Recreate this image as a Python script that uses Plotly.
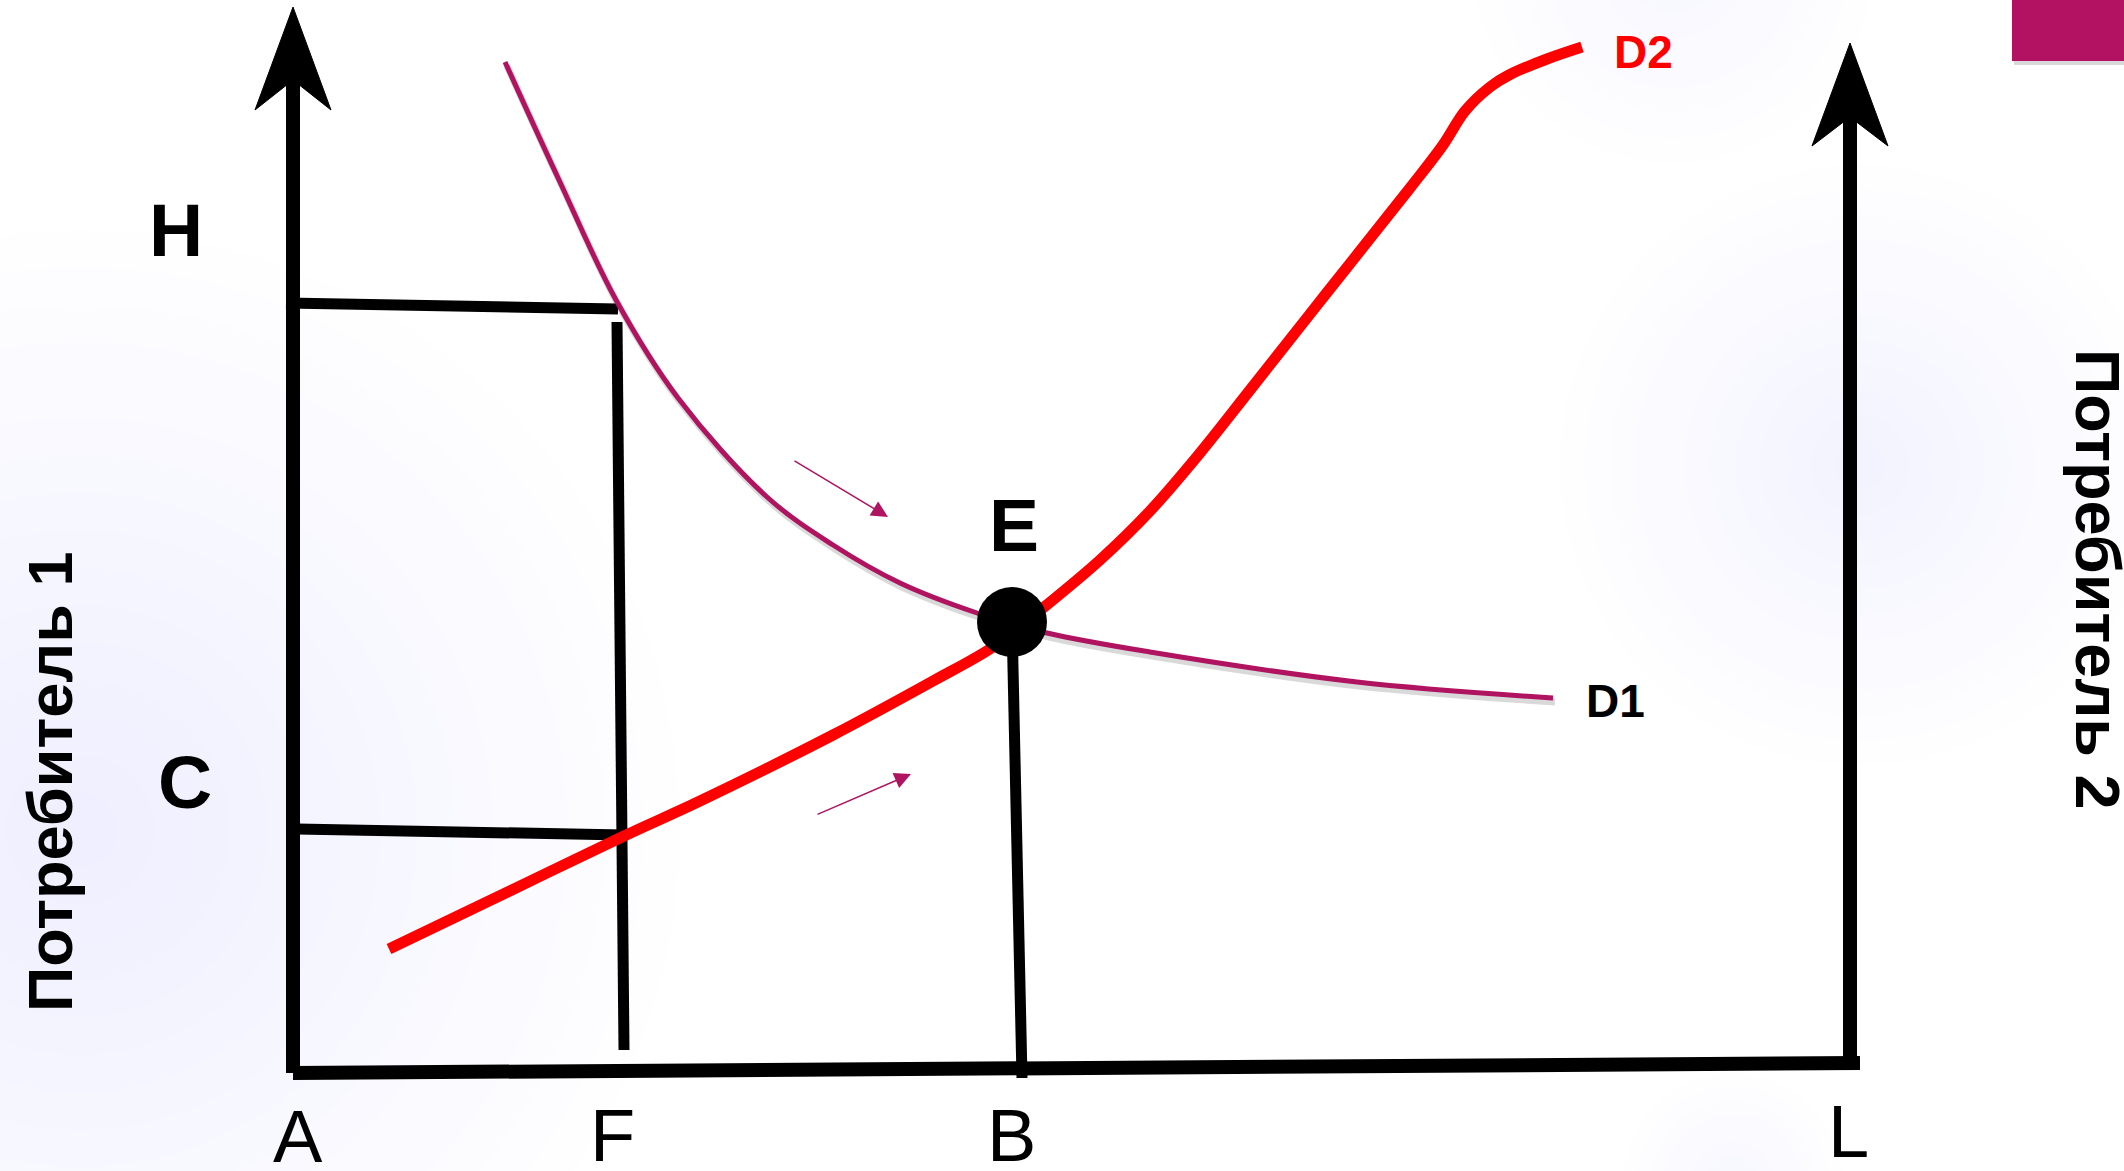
import plotly.graph_objects as go

# coordinates measured with the origin at point A (x right, y up)
d1_x = [212, 266, 323, 385, 474, 540, 607, 684, 754, 857, 1064, 1260]
d1_y = [1011, 893, 773, 675, 576, 528, 490, 460, 440, 421, 391, 375]

d2_x = [96, 198, 331, 407, 540, 640, 700, 750, 807, 857, 907, 957, 1032,
        1117, 1150, 1172, 1197, 1216, 1254, 1289]
d2_y = [124, 173, 237, 272, 338, 392, 426, 465, 513, 562, 620, 683, 778,
        885, 928, 962, 986, 998, 1014, 1026]

equilibrium = (719, 451)

# guide lines: name -> ([x0, x1], [y0, y1])
guides = {
    "H": ([-7, 325], [770, 764]),
    "F": ([324, 331], [751, 23]),
    "C": ([4, 331], [244, 238]),
    "B": ([719, 729], [451, -5]),
}

# axes of the box
axis_left = ([0, 0], [0, 993])
axis_bottom = ([0, 1567], [0, 10])
axis_right = ([1557, 1557], [10, 956])
arrow_tips = [(0, 1066, 993, 963), (1557, 1030, 956, 927)]  # x, tip, notch, barb

point_labels = ["H", "C", "E"]
point_label_x = [-117, -108, 721]
point_label_y = [843, 291, 548]

curve_labels = ["D1", "D2"]
curve_label_x = [1322, 1350]
curve_label_y = [372, 1021]

axis_labels = ["A", "F", "B", "L"]
axis_label_x = [5, 319, 718, 1555]
axis_label_y = [-63, -62, -62, -58]

move_arrows = [((500, 613), (595, 556)), ((523, 258), (618, 299))]

purple = "#B0135F"
red = "#FF0000"

fig = go.Figure()

# soft lavender glows in the background
glows = [(-213, 243, 600, 16, 0.014), (1567, 608, 300, 12, 0.01),
         (1440, -110, 110, 8, 0.014), (1380, 1110, 200, 8, 0.008)]
for cx, cy, r, n, a in glows:
    for i in range(n):
        rr = r * (1 - i / n)
        fig.add_shape(type="circle", x0=cx - rr, x1=cx + rr, y0=cy - rr, y1=cy + rr,
                      fillcolor=f"rgba(180,160,236,{a})", line_width=0, layer="below")

# magenta corner tab with a little shadow
fig.add_shape(type="rect", x0=1721, x1=1835, y0=1076, y1=1008,
              fillcolor="rgba(0,0,0,0.15)", line_width=0, layer="below")
fig.add_shape(type="rect", x0=1719, x1=1831, y0=1073, y1=1012,
              fillcolor="#B31262", line_width=0)

for xs, ys in [axis_left, axis_bottom, axis_right]:
    fig.add_trace(go.Scatter(x=xs, y=ys, mode="lines", line=dict(color="black", width=14),
                             hoverinfo="skip"))

for x, tip, notch, barb in arrow_tips:
    fig.add_trace(go.Scatter(x=[x, x + 38, x, x - 38, x], y=[tip, barb, notch, barb, tip],
                             mode="lines", fill="toself", fillcolor="black",
                             line=dict(color="black", width=1), hoverinfo="skip"))

for name, (xs, ys) in guides.items():
    fig.add_trace(go.Scatter(x=xs, y=ys, mode="lines", line=dict(color="black", width=11),
                             hoverinfo="skip"))

# D1 with drop shadow
fig.add_trace(go.Scatter(x=[v + 2 for v in d1_x], y=[v - 4 for v in d1_y], mode="lines",
                         line=dict(color="rgba(0,0,0,0.15)", width=7, shape="spline",
                                   smoothing=1.0),
                         hoverinfo="skip"))
fig.add_trace(go.Scatter(x=d1_x, y=d1_y, mode="lines",
                         line=dict(color=purple, width=5, shape="spline", smoothing=1.0),
                         hoverinfo="skip"))
fig.add_trace(go.Scatter(x=d2_x, y=d2_y, mode="lines",
                         line=dict(color=red, width=11, shape="spline", smoothing=1.0),
                         hoverinfo="skip"))

fig.add_trace(go.Scatter(x=[equilibrium[0]], y=[equilibrium[1]], mode="markers",
                         marker=dict(color="black", size=70), hoverinfo="skip"))

for (x0, y0), (x1, y1) in move_arrows:
    fig.add_annotation(x=x1, y=y1, ax=x0, ay=y0, xref="x", yref="y", axref="x", ayref="y",
                       text="", showarrow=True, arrowhead=2, arrowsize=2.2, arrowwidth=1.5,
                       arrowcolor=purple)

sans = "Liberation Sans, Arial, sans-serif"
for t, x, y in zip(point_labels, point_label_x, point_label_y):
    fig.add_annotation(x=x, y=y, text=f"<b>{t}</b>", showarrow=False,
                       font=dict(family=sans, size=75, color="black"))
for t, x, y, c in zip(curve_labels, curve_label_x, curve_label_y, ["black", red]):
    fig.add_annotation(x=x, y=y, text=f"<b>{t}</b>", showarrow=False,
                       font=dict(family=sans, size=46, color=c))

for t, x, y in zip(axis_labels, axis_label_x, axis_label_y):
    fig.add_annotation(x=x, y=y, text=t, showarrow=False,
                       font=dict(family=sans, size=74, color="black"))

fig.add_annotation(x=-243, y=291, text="<b>Потребитель 1</b>", showarrow=False, textangle=-90,
                   font=dict(family=sans, size=63, color="black"))
fig.add_annotation(x=1805, y=494, text="<b>Потребитель 2</b>", showarrow=False, textangle=90,
                   font=dict(family=sans, size=63, color="black"))

fig.update_layout(
    width=2124, height=1171, margin=dict(l=0, r=0, t=0, b=0),
    paper_bgcolor="white", plot_bgcolor="white", showlegend=False,
    xaxis=dict(range=[-293, 1831], visible=False, fixedrange=True),
    yaxis=dict(range=[-98, 1073], visible=False, fixedrange=True),
)

fig.write_html("out.html", config={"displayModeBar": False},
               post_script="document.body.style.margin='0';")
